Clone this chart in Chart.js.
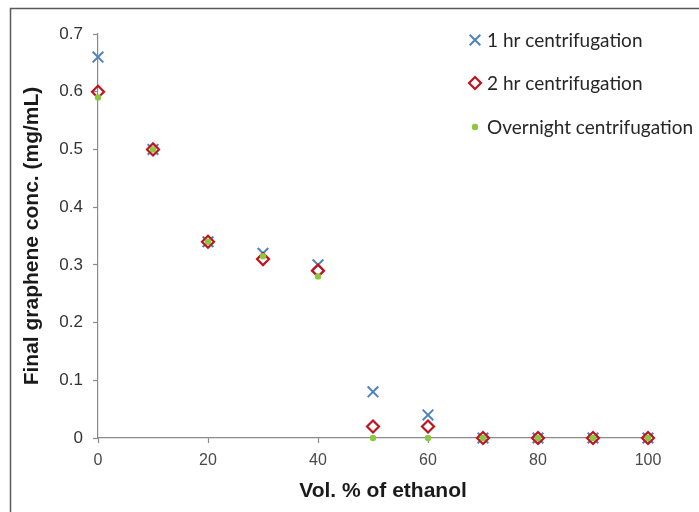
<!DOCTYPE html>
<html>
<head>
<meta charset="utf-8">
<script src="https://cdn.jsdelivr.net/npm/chart.js@4/dist/chart.umd.min.js"></script>
<style>
  html, body { margin: 0; padding: 0; background: #fff; }
  #wrap { width: 699px; height: 512px; }
</style>
</head>
<body>
<div id="wrap"><canvas id="c" width="699" height="512"></canvas></div>
<script>
// Graphene concentration after centrifugation vs. ethanol content
const ethanolPct = [0, 10, 20, 30, 40, 50, 60, 70, 80, 90, 100];
const conc1hr = [0.66, 0.50, 0.34, 0.32, 0.30, 0.08, 0.04, 0, 0, 0, 0];
const conc2hr = [0.60, 0.50, 0.34, 0.31, 0.29, 0.02, 0.02, 0, 0, 0, 0];
const concOvernight = [0.59, 0.50, 0.34, 0.315, 0.28, 0, 0, 0, 0, 0, 0];
const seriesNames = ['1 hr centrifugation', '2 hr centrifugation', 'Overnight centrifugation'];
const xTitle = 'Vol. % of ethanol';
const yTitle = 'Final graphene conc. (mg/mL)';

const toPoints = ys => ethanolPct.map((x, i) => ({ x: x, y: ys[i] }));

const axisGray = '#8a8a8a';
const fontFamily = '"Liberation Sans", Arial, sans-serif';
const xTickFont = { family: fontFamily, size: 16 };
const yTickFont = { family: fontFamily, size: 17 };
const titleFont = { family: fontFamily, size: 21, weight: 'bold' };

// Outer frame and white background
const framePlugin = {
  id: 'frame',
  beforeDraw(chart) {
    const ctx = chart.ctx;
    ctx.save();
    ctx.fillStyle = '#fff';
    ctx.fillRect(0, 0, chart.width, chart.height);
    ctx.strokeStyle = '#5a5a5a';
    ctx.lineWidth = 1.5;
    ctx.strokeRect(10.5, 8.5, chart.width + 20, chart.height + 20);
    ctx.restore();
  }
};

// X axis title, sitting slightly right of the plot centre
const xTitlePlugin = {
  id: 'xTitle',
  afterDraw(chart) {
    const ctx = chart.ctx;
    const area = chart.chartArea;
    ctx.save();
    ctx.fillStyle = '#1a1a1a';
    ctx.font = 'bold 21px ' + fontFamily;
    ctx.textAlign = 'center';
    ctx.textBaseline = 'middle';
    ctx.fillText(xTitle, (area.left + area.right) / 2 + 10, area.bottom + 53);
    ctx.restore();
  }
};

// Legend drawn inside the plot, top right
const insideLegend = {
  id: 'insideLegend',
  afterDraw(chart) {
    const ctx = chart.ctx;
    const rows = [40, 83, 127];
    const markerX = 475, textX = 487;
    ctx.save();
    chart.data.datasets.forEach((ds, i) => {
      const y = rows[i];
      const style = {
        pointStyle: ds.pointStyle,
        radius: ds.pointRadius,
        rotation: 0,
        borderWidth: ds.borderWidth
      };
      ctx.strokeStyle = ds.borderColor;
      ctx.fillStyle = ds.backgroundColor;
      ctx.lineWidth = ds.borderWidth;
      Chart.helpers.drawPoint(ctx, style, markerX, y);
      ctx.fillStyle = '#262626';
      ctx.font = '19px Lato, "Open Sans", sans-serif';
      ctx.textAlign = 'left';
      ctx.textBaseline = 'middle';
      ctx.fillText(seriesNames[i], textX, y + 1);
    });
    ctx.restore();
  }
};

new Chart(document.getElementById('c'), {
  type: 'scatter',
  data: {
    datasets: [
      {
        label: seriesNames[0],
        data: toPoints(conc1hr),
        pointStyle: 'crossRot',
        pointRadius: 7.5,
        borderWidth: 2,
        borderColor: '#4f81bd',
        backgroundColor: '#4f81bd',
        clip: false,
        order: 3
      },
      {
        label: seriesNames[1],
        data: toPoints(conc2hr),
        pointStyle: 'rectRot',
        pointRadius: 6,
        borderWidth: 2.2,
        borderColor: '#c0121f',
        backgroundColor: 'rgba(255,255,255,0)',
        clip: false,
        order: 2
      },
      {
        label: seriesNames[2],
        data: toPoints(concOvernight),
        pointStyle: 'circle',
        pointRadius: 3.2,
        borderWidth: 0,
        borderColor: '#8dc63f',
        backgroundColor: '#8dc63f',
        clip: false,
        order: 1
      }
    ]
  },
  options: {
    responsive: false,
    animation: false,
    events: [],
    layout: { padding: { left: 0, right: 51, top: 34, bottom: 0 } },
    plugins: {
      legend: { display: false },
      tooltip: { enabled: false }
    },
    scales: {
      x: {
        type: 'linear',
        min: 0,
        max: 100,
        afterFit(s) { s.height = 74; },
        border: { display: true, color: axisGray, width: 1.2 },
        grid: { drawOnChartArea: false, drawTicks: true, tickLength: 5, color: axisGray, tickWidth: 1.2 },
        ticks: { stepSize: 20, color: '#4a4a4a', font: xTickFont, padding: 8, maxRotation: 0 },
        title: { display: false }
      },
      y: {
        type: 'linear',
        min: 0,
        max: 0.7,
        afterFit(s) { s.width = 98; },
        border: { display: true, color: axisGray, width: 1.2 },
        grid: { drawOnChartArea: false, drawTicks: true, tickLength: 5, color: axisGray, tickWidth: 1.2 },
        ticks: {
          stepSize: 0.1,
          color: '#333333',
          font: yTickFont,
          padding: 10,
          callback: v => (Math.round(v * 10) / 10).toString()
        },
        title: { display: true, text: yTitle, color: '#1a1a1a', font: titleFont, padding: { top: 20, bottom: 0 } }
      }
    }
  },
  plugins: [framePlugin, xTitlePlugin, insideLegend]
});
</script>
</body>
</html>
